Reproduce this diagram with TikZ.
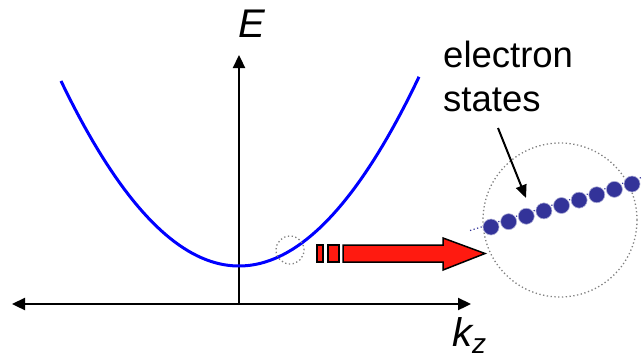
\documentclass[tikz,border=0pt]{standalone}
\usepackage{fontspec}
\setmainfont{Liberation Sans}
\usetikzlibrary{arrows.meta}
\definecolor{dotblue}{HTML}{333399}
\definecolor{arrred}{HTML}{FF1A10}
\begin{document}
\begin{tikzpicture}[x=1pt,y=-1pt,
  axis/.style={line width=2.3pt,{Triangle[length=13pt,width=12pt]}-{Triangle[length=13pt,width=12pt]}},
  zoomring/.style={draw=gray,line width=1.3pt,dash pattern=on 1.3pt off 2.5pt},
  state/.style={circle,fill=dotblue,draw=dotblue!40,line width=0.6pt,inner sep=0pt,minimum size=16pt},
  lbl/.style={font=\fontsize{36.5}{44}\selectfont,align=left,inner sep=0pt}]
\useasboundingbox (0,0) rectangle (644,362);
% axes
\coordinate (yb) at (239,305);
\coordinate (yt) at (239,55);
\coordinate (xl) at (12,304);
\coordinate (xr) at (471,304);
\draw[line width=2.3pt,-{Triangle[length=13pt,width=12pt]}] (yb) -- (yt);
\draw[axis] (xl) -- (xr);
\node[font=\fontsize{40}{40}\selectfont\itshape,inner sep=0pt] (E) at (252,24) {E};
\node[font=\fontsize{40}{40}\selectfont\itshape,inner sep=0pt,anchor=base west] (kz) at (452,346) {k\raisebox{-7pt}{\fontsize{28}{28}\selectfont z}};
% parabola
\draw[blue,line width=3pt,domain=-178:180,samples=80] plot ({239+\x},{266-(0.07642*\x)^2});
% small ring
\node[zoomring,circle,minimum size=28pt,inner sep=0pt] (small) at (290,250) {};
% red arrow
\draw[fill=arrred,line width=1.5pt] (317,245) rectangle (323,262);
\draw[fill=arrred,line width=1.5pt] (328,245) rectangle (339,262);
\draw[fill=arrred,line width=1.5pt,line join=miter] (343,245) -- (443,245) -- (443,238) -- (485,253.5) -- (443,270) -- (443,262) -- (343,262) -- cycle;
% big ring
\node[zoomring,circle,minimum size=154pt,inner sep=0pt] (big) at (560,220) {};
% electron states
\coordinate (la) at (470,230.5);
\coordinate (lb) at (643,177);
\draw[dotblue,line width=1.2pt,dash pattern=on 1.2pt off 2.5pt] (la) -- (lb);
\foreach \i in {0,...,8} {
  \node[state] (s\i) at ({491+\i*17.625},{227-\i*5.375}) {};
}
\node[lbl,anchor=north west] (txt) at (443,41) {electron\\states};
\coordinate (ta) at (498,128);
\coordinate (tb) at (526,198);
\draw[line width=2pt,-{Triangle[length=13pt,width=11pt]}] (ta) -- (tb);
\end{tikzpicture}
\end{document}
